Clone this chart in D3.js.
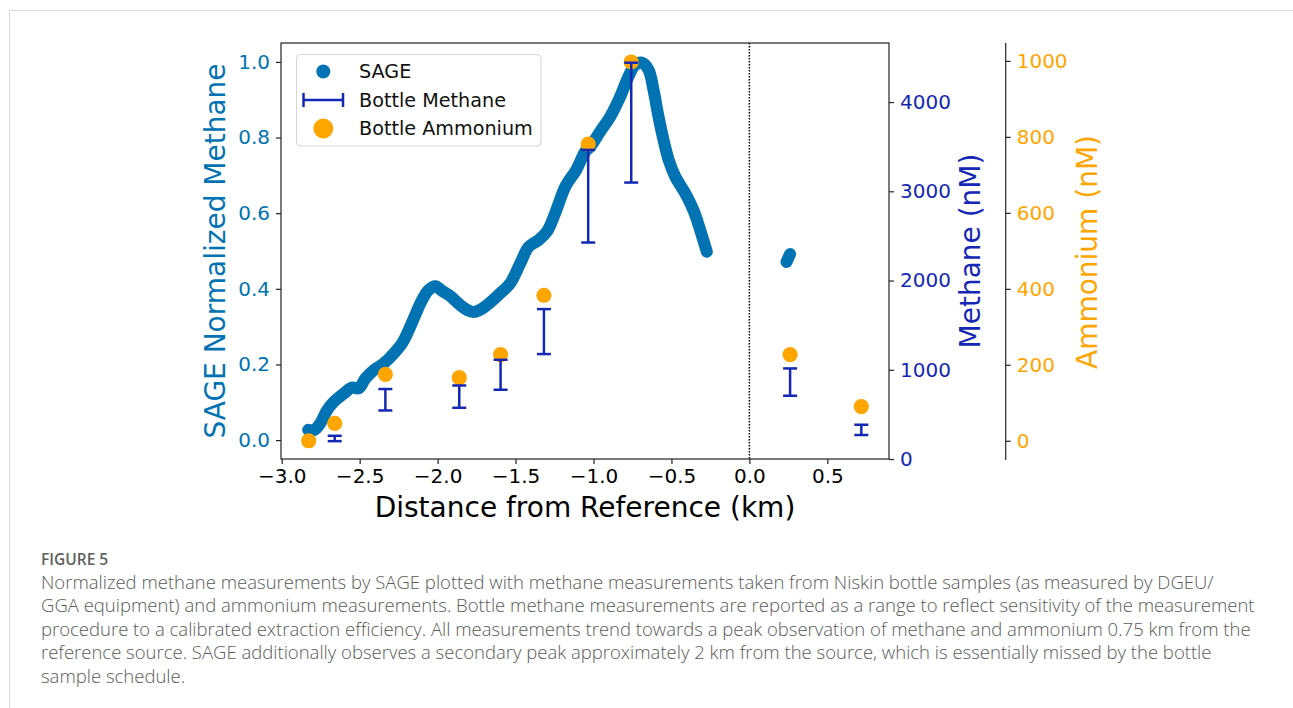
<!DOCTYPE html>
<html lang="en">
<head>
    <meta charset='utf-8'>
    <title>Figure 5 - SAGE methane</title>
    <style>
        body{
            margin: 0;
            background: #fff;
        }
        text {
            font-family: "DejaVu Sans", sans-serif;
        }
        .caption text {
            font-family: "Open Sans", sans-serif;
        }
    </style>
</head>
<body>
<div id="fig"></div>
<script src='https://cdn.jsdelivr.net/npm/d3@7'></script>
<script>
    var width = 1293, height = 708;
    var blue = "#0173b2", navy = "#1428b4", orange = "#ffa500";

    // SAGE normalized methane
    var sageDist = [-2.830, -2.790, -2.760, -2.741, -2.709, -2.666, -2.602, -2.549, -2.506, -2.463,
        -2.409, -2.345, -2.281, -2.228, -2.185, -2.143, -2.100, -2.057, -2.014, -1.972,
        -1.919, -1.855, -1.810, -1.769, -1.725, -1.683, -1.609, -1.534, -1.470, -1.416,
        -1.352, -1.299, -1.246, -1.181, -1.110, -1.053, -1.021, -0.957, -0.893, -0.829,
        -0.776, -0.733, -0.690, -0.647, -0.615, -0.583, -0.551, -0.518, -0.476, -0.412,
        -0.359, -0.316, -0.273,
        0.238, 0.250, 0.261];
    var sageNorm = [0.027, 0.027, 0.040, 0.053, 0.079, 0.101, 0.123, 0.139, 0.137, 0.163,
        0.185, 0.203, 0.229, 0.256, 0.291, 0.331, 0.370, 0.397, 0.407, 0.395,
        0.381, 0.357, 0.344, 0.339, 0.345, 0.357, 0.384, 0.415, 0.467, 0.511,
        0.529, 0.551, 0.600, 0.670, 0.715, 0.763, 0.776, 0.816, 0.855, 0.908,
        0.961, 0.992, 0.998, 0.979, 0.926, 0.855, 0.794, 0.741, 0.697, 0.653,
        0.608, 0.556, 0.498,
        0.471, 0.482, 0.492];

    // bottle samples
    var ammoniumDist = [-2.827, -2.660, -2.335, -1.861, -1.596, -1.318, -1.034, -0.758, 0.261, 0.718];
    var ammonium = [0, 46, 175, 166, 227, 383, 781, 997, 227, 90];
    var methaneDist = [-2.660, -2.335, -1.861, -1.596, -1.318, -1.034, -0.758, 0.261, 0.718];
    var methaneLow = [200, 544, 574, 776, 1176, 2426, 3098, 709, 269];
    var methaneHigh = [260, 784, 824, 1112, 1680, 3464, 4441, 1015, 384];

    var xTicks = [-3.0, -2.5, -2.0, -1.5, -1.0, -0.5, 0.0, 0.5];
    var normTicks = [0.0, 0.2, 0.4, 0.6, 0.8, 1.0];
    var methaneTicks = [0, 1000, 2000, 3000, 4000];
    var ammoniumTicks = [0, 200, 400, 600, 800, 1000];

    var captionTitle = "FIGURE 5";
    var captionLines = [
        "Normalized methane measurements by SAGE plotted with methane measurements taken from Niskin bottle samples (as measured by DGEU/",
        "GGA equipment) and ammonium measurements. Bottle methane measurements are reported as a range to reflect sensitivity of the measurement",
        "procedure to a calibrated extraction efficiency. All measurements trend towards a peak observation of methane and ammonium 0.75 km from the",
        "reference source. SAGE additionally observes a secondary peak approximately 2 km from the source, which is essentially missed by the bottle",
        "sample schedule."
    ];

    // plot box (window.top is reserved, so prefixed names)
    var pLeft = 281, pRight = 889, pTop = 43, pBottom = 459, ammAxisX = 1005.7;

    var svg = d3.select("#fig").append("svg")
        .attr("width", width).attr("height", height);

    // page frame
    svg.append("line").attr("x1", 9.5).attr("x2", width).attr("y1", 10.5).attr("y2", 10.5)
        .attr("stroke", "#dcdcdc");
    svg.append("line").attr("x1", 9.5).attr("x2", 9.5).attr("y1", 10.5).attr("y2", height)
        .attr("stroke", "#dcdcdc");

    var x = d3.scaleLinear().domain([-3.0045, 0.8955]).range([pLeft, pRight]);
    var yNorm = d3.scaleLinear().domain([-0.05, 1.05]).range([pBottom, pTop]);
    var yMeth = d3.scaleLinear().domain([0, 4662]).range([pBottom, pTop]);
    var yAmm = d3.scaleLinear().domain([-48, 1047]).range([pBottom, pTop]);

    // zero reference line
    svg.append("line")
        .attr("x1", x(0)).attr("x2", x(0)).attr("y1", pTop).attr("y2", pBottom)
        .attr("stroke", "#000").attr("stroke-width", 1.5).attr("stroke-dasharray", "1.5,1.5");

    // SAGE trace, split where the record has a gap
    var sage = sageDist.map(function(d, i){ return {x: d, y: sageNorm[i]}; });
    var segments = [[]];
    sage.forEach(function(p, i){
        if (i > 0 && p.x - sage[i - 1].x > 0.2) segments.push([]);
        segments[segments.length - 1].push(p);
    });
    var line = d3.line()
        .x(function(d){ return x(d.x); })
        .y(function(d){ return yNorm(d.y); })
        .curve(d3.curveCatmullRom);
    svg.selectAll(".sage")
        .data(segments).enter()
        .append("path")
        .attr("class", "sage")
        .attr("d", line)
        .attr("fill", "none")
        .attr("stroke", blue)
        .attr("stroke-width", 12)
        .attr("stroke-linecap", "round")
        .attr("stroke-linejoin", "round");

    // ammonium points
    svg.selectAll(".amm")
        .data(ammonium).enter()
        .append("circle")
        .attr("class", "amm")
        .attr("cx", function(d, i){ return x(ammoniumDist[i]); })
        .attr("cy", function(d){ return yAmm(d); })
        .attr("r", 7.6)
        .attr("fill", orange);

    // bottle methane ranges
    var bars = svg.selectAll(".bar")
        .data(methaneDist).enter()
        .append("g")
        .attr("class", "bar")
        .attr("stroke", navy)
        .attr("stroke-width", 2.5);
    bars.append("line")
        .attr("x1", function(d){ return x(d); }).attr("x2", function(d){ return x(d); })
        .attr("y1", function(d, i){ return yMeth(methaneLow[i]); })
        .attr("y2", function(d, i){ return yMeth(methaneHigh[i]); });
    bars.append("line")
        .attr("x1", function(d){ return x(d) - 7; }).attr("x2", function(d){ return x(d) + 7; })
        .attr("y1", function(d, i){ return yMeth(methaneLow[i]); })
        .attr("y2", function(d, i){ return yMeth(methaneLow[i]); });
    bars.append("line")
        .attr("x1", function(d){ return x(d) - 7; }).attr("x2", function(d){ return x(d) + 7; })
        .attr("y1", function(d, i){ return yMeth(methaneHigh[i]); })
        .attr("y2", function(d, i){ return yMeth(methaneHigh[i]); });

    // frame
    svg.append("rect")
        .attr("x", pLeft).attr("y", pTop).attr("width", pRight - pLeft).attr("height", pBottom - pTop)
        .attr("fill", "none").attr("stroke", "#222").attr("stroke-width", 1.2);

    function styleAxis(g, color){
        g.select(".domain").remove();
        g.selectAll(".tick line").attr("stroke", "#222").attr("stroke-width", 1.2);
        g.selectAll(".tick text")
            .attr("fill", color)
            .style("font-family", "'DejaVu Sans', sans-serif")
            .style("font-size", "20px");
    }

    svg.append("g")
        .attr("transform", "translate(0," + pBottom + ")")
        .call(d3.axisBottom(x).tickValues(xTicks).tickFormat(d3.format(".1f")).tickSize(5).tickPadding(5))
        .call(styleAxis, "#000");

    svg.append("g")
        .attr("transform", "translate(" + pLeft + ",0)")
        .call(d3.axisLeft(yNorm).tickValues(normTicks).tickFormat(d3.format(".1f")).tickSize(5).tickPadding(6))
        .call(styleAxis, blue);

    svg.append("g")
        .attr("transform", "translate(" + pRight + ",0)")
        .call(d3.axisRight(yMeth).tickValues(methaneTicks).tickFormat(d3.format("d")).tickSize(5).tickPadding(6))
        .call(styleAxis, navy);

    var ammAxis = svg.append("g")
        .attr("transform", "translate(" + ammAxisX + ",0)")
        .call(d3.axisRight(yAmm).tickValues(ammoniumTicks).tickFormat(d3.format("d")).tickSize(5).tickPadding(6))
        .call(styleAxis, orange);
    ammAxis.append("line")
        .attr("x1", 0).attr("x2", 0).attr("y1", pTop).attr("y2", pBottom + 1)
        .attr("stroke", "#222").attr("stroke-width", 1.2);

    // axis titles
    var midY = (pTop + pBottom) / 2;
    svg.append("text")
        .attr("x", (pLeft + pRight) / 2).attr("y", 517)
        .attr("text-anchor", "middle")
        .style("font-size", "28px").attr("fill", "#000")
        .text("Distance from Reference (km)");
    svg.append("text")
        .attr("transform", "translate(225," + midY + ") rotate(-90)")
        .attr("text-anchor", "middle")
        .style("font-size", "28px").attr("fill", blue)
        .text("SAGE Normalized Methane");
    svg.append("text")
        .attr("transform", "translate(980," + midY + ") rotate(-90)")
        .attr("text-anchor", "middle")
        .style("font-size", "28px").attr("fill", navy)
        .text("Methane (nM)");
    svg.append("text")
        .attr("transform", "translate(1096.5," + (midY + 1) + ") rotate(-90)")
        .attr("text-anchor", "middle")
        .style("font-size", "28px").attr("fill", orange)
        .text("Ammonium (nM)");

    // legend
    var legend = svg.append("g");
    legend.append("rect")
        .attr("x", 296.5).attr("y", 54.5).attr("width", 244.5).attr("height", 91.5)
        .attr("rx", 4)
        .attr("fill", "#fff").attr("fill-opacity", 0.8)
        .attr("stroke", "#d4d4d4");
    legend.append("circle").attr("cx", 323.3).attr("cy", 71.5).attr("r", 7).attr("fill", blue);
    var lg = legend.append("g").attr("stroke", navy).attr("stroke-width", 2.5);
    lg.append("line").attr("x1", 303.5).attr("x2", 343).attr("y1", 100).attr("y2", 100);
    lg.append("line").attr("x1", 303.5).attr("x2", 303.5).attr("y1", 93).attr("y2", 107);
    lg.append("line").attr("x1", 343).attr("x2", 343).attr("y1", 93).attr("y2", 107);
    legend.append("circle").attr("cx", 323.3).attr("cy", 128.5).attr("r", 10).attr("fill", orange);
    var legendNames = ["SAGE", "Bottle Methane", "Bottle Ammonium"];
    legend.selectAll(".lt")
        .data(legendNames).enter()
        .append("text")
        .attr("class", "lt")
        .attr("x", 359)
        .attr("y", function(d, i){ return 71 + i * 28.6; })
        .attr("dy", "0.36em")
        .style("font-size", "19.2px")
        .attr("fill", "#111")
        .text(function(d){ return d; });

    // caption
    var cap = svg.append("g").attr("class", "caption");
    cap.append("text")
        .attr("x", 41).attr("y", 565)
        .style("font-size", "15.5px").style("font-weight", 600)
        .attr("fill", "#5e5e5e")
        .text(captionTitle);
    cap.selectAll(".cl")
        .data(captionLines).enter()
        .append("text")
        .attr("class", "cl")
        .attr("x", 41)
        .attr("y", function(d, i){ return 589 + i * 23.4; })
        .style("font-size", "18.5px")
        .style("font-weight", 300)
        .attr("fill", "#5a5a5a")
        .text(function(d){ return d; });
</script>
</body>
</html>
